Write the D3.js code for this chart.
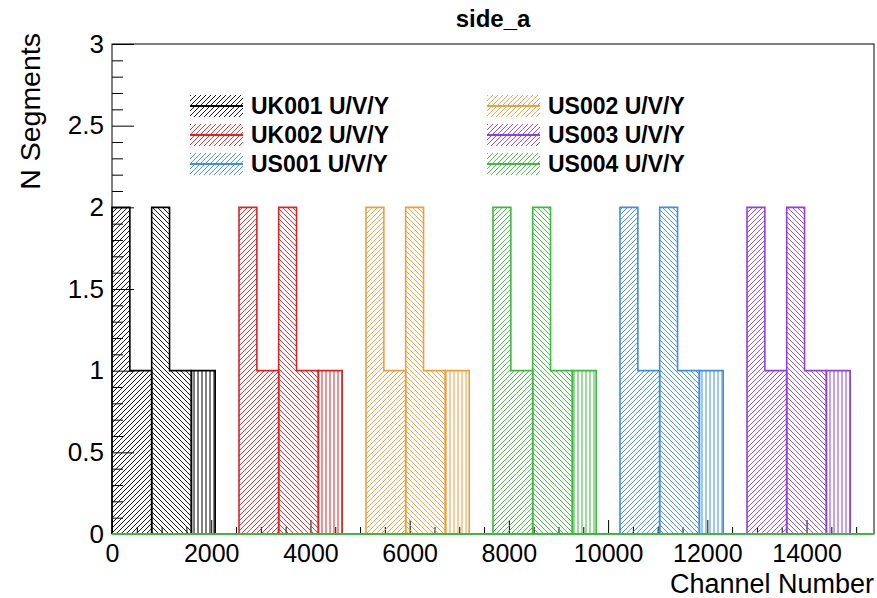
<!DOCTYPE html>
<html>
<head>
<meta charset="utf-8">
<script src="https://cdn.jsdelivr.net/npm/d3@7"></script>
<style>
  html, body { margin: 0; padding: 0; background: #ffffff; }
  svg { display: block; font-family: "Liberation Sans", Arial, Helvetica, sans-serif; }
</style>
</head>
<body>
<svg id="chart" width="877" height="598"></svg>
<script>
// APA modules along the channel axis (side A), in channel order
const apaNames = ["UK001", "UK002", "US002", "US004", "US001", "US003"];
const apaColors = ["#000000", "#dc2424", "#f29c3a", "#3cba3c", "#3d8fe0", "#8a40e6"];
const apaFirstChannel = [0, 2560, 5120, 7680, 10240, 12800];

// Per-plane bin edges (channel offset inside an APA) and segment counts
const uEdges = [0, 360, 800];
const uCounts = [2, 1];
const vEdges = [800, 1160, 1600];
const vCounts = [2, 1];
const yEdges = [1600, 2080];
const yCounts = [1];

// Legend layout order (two columns)
const legendNames = ["UK001", "UK002", "US001", "US002", "US003", "US004"];
const legendSuffix = " U/V/Y";

// Axis settings
const xDomain = [0, 15360];
const yDomain = [0, 3];
const xMajorTicks = [0, 2000, 4000, 6000, 8000, 10000, 12000, 14000];
const yMajorTicks = [0, 0.5, 1, 1.5, 2, 2.5, 3];

const svg = d3.select("#chart");
const frame = { left: 112, right: 874, top: 44, bottom: 534 };

const x = d3.scaleLinear().domain(xDomain).range([frame.left, frame.right]);
const y = d3.scaleLinear().domain(yDomain).range([frame.bottom, frame.top]);

// Hatch patterns per colour: "///" for U, "\\\" for V, "|||" for Y
const defs = svg.append("defs");
apaColors.forEach((c, i) => {
  const p1 = defs.append("pattern").attr("id", "hatchU" + i)
    .attr("patternUnits", "userSpaceOnUse").attr("width", 5).attr("height", 5);
  p1.append("path").attr("d", "M-1,1 l2,-2 M0,5 l5,-5 M4,6 l2,-2")
    .attr("stroke", c).attr("stroke-width", 0.9).attr("fill", "none");
  const p2 = defs.append("pattern").attr("id", "hatchV" + i)
    .attr("patternUnits", "userSpaceOnUse").attr("width", 5).attr("height", 5);
  p2.append("path").attr("d", "M-1,4 l2,2 M0,0 l5,5 M4,-1 l2,2")
    .attr("stroke", c).attr("stroke-width", 0.9).attr("fill", "none");
  const p3 = defs.append("pattern").attr("id", "hatchY" + i)
    .attr("patternUnits", "userSpaceOnUse").attr("width", 4).attr("height", 10);
  p3.append("path").attr("d", "M2,0 V10")
    .attr("stroke", c).attr("stroke-width", 1).attr("fill", "none");
});

// Axis ticks (drawn inside the frame, ROOT style)
const xMinor = d3.range(0, 15360 + 1, 500).filter(v => v % 2000 !== 0);
const yMinor = d3.range(0, 31).map(k => k / 10).filter(v => Math.round(v * 10) % 5 !== 0);

const gx = svg.append("g").attr("transform", `translate(0,${frame.bottom})`)
  .call(d3.axisBottom(x).tickValues(xMajorTicks).tickSizeInner(-14).tickSizeOuter(0)
    .tickPadding(10).tickFormat(d3.format("d")));
svg.append("g").attr("transform", `translate(0,${frame.bottom})`)
  .call(d3.axisBottom(x).tickValues(xMinor).tickSizeInner(-7).tickSizeOuter(0).tickFormat(""))
  .select(".domain").remove();
const gy = svg.append("g").attr("transform", `translate(${frame.left},0)`)
  .call(d3.axisLeft(y).tickValues(yMajorTicks).tickSizeInner(-22).tickSizeOuter(0)
    .tickPadding(8).tickFormat(d => String(d)));
svg.append("g").attr("transform", `translate(${frame.left},0)`)
  .call(d3.axisLeft(y).tickValues(yMinor).tickSizeInner(-11).tickSizeOuter(0).tickFormat(""))
  .select(".domain").remove();
gx.select(".domain").remove();
gy.select(".domain").remove();
svg.selectAll(".tick line").attr("stroke", "#000").attr("stroke-width", 1);
gx.selectAll("text").attr("font-size", 25).attr("fill", "#000")
  .attr("font-family", "'Liberation Sans', Arial, sans-serif");
gy.selectAll("text").attr("font-size", 26).attr("fill", "#000")
  .attr("font-family", "'Liberation Sans', Arial, sans-serif");

// Histograms: one step shape per wire plane and APA
function stepPoints(offset, edges, counts) {
  const pts = [[x(offset + edges[0]), y(0)]];
  counts.forEach((c, k) => {
    pts.push([x(offset + edges[k]), y(c)]);
    pts.push([x(offset + edges[k + 1]), y(c)]);
  });
  pts.push([x(offset + edges[edges.length - 1]), y(0)]);
  return pts;
}

const planes = [
  { edges: uEdges, counts: uCounts, hatch: "hatchU" },
  { edges: vEdges, counts: vCounts, hatch: "hatchV" },
  { edges: yEdges, counts: yCounts, hatch: "hatchY" }
];

const hist = svg.append("g");
apaNames.forEach((name, i) => {
  const g = hist.append("g").attr("class", "apa-" + name);
  planes.forEach(pl => {
    const pts = stepPoints(apaFirstChannel[i], pl.edges, pl.counts);
    g.append("path").attr("d", d3.line()(pts) + "Z")
      .attr("fill", `url(#${pl.hatch}${i})`).attr("stroke", "none");
    g.append("path").attr("d", d3.line()(pts))
      .attr("fill", "none").attr("stroke", apaColors[i]).attr("stroke-width", 1.6);
  });
});

// Frame
svg.append("rect").attr("x", frame.left).attr("y", frame.top)
  .attr("width", frame.right - frame.left).attr("height", frame.bottom - frame.top)
  .attr("fill", "none").attr("stroke", "#000").attr("stroke-width", 1);
// Zero baseline of the last histogram drawn across the full range
svg.append("line").attr("x1", frame.left).attr("x2", frame.right)
  .attr("y1", y(0)).attr("y2", y(0))
  .attr("stroke", apaColors[3]).attr("stroke-width", 2);

// Titles
svg.append("text").attr("x", 493).attr("y", 27).attr("text-anchor", "middle")
  .attr("font-size", 24).attr("font-weight", "bold").text("side_a");
svg.append("text").attr("x", frame.right).attr("y", 593).attr("text-anchor", "end")
  .attr("font-size", 27).text("Channel Number");
svg.append("text").attr("transform", "translate(40,33) rotate(-90)")
  .attr("text-anchor", "end").attr("font-size", 28.5).text("N Segments");

// Legend
const legendCols = [190, 487];
const legendRows = [106, 135, 164];
legendNames.forEach((name, k) => {
  const i = apaNames.indexOf(name);
  const lx = legendCols[Math.floor(k / 3)];
  const ly = legendRows[k % 3];
  const g = svg.append("g").attr("transform", `translate(${lx},${ly})`);
  g.append("rect").attr("x", 0).attr("y", -11).attr("width", 53).attr("height", 22)
    .attr("fill", `url(#hatchU${i})`);
  g.append("line").attr("x1", 0).attr("x2", 53).attr("y1", 0).attr("y2", 0)
    .attr("stroke", apaColors[i]).attr("stroke-width", 2);
  g.append("text").attr("x", 61).attr("y", 8).attr("font-size", 23)
    .attr("font-weight", "bold").text(name + legendSuffix);
});
</script>
</body>
</html>
